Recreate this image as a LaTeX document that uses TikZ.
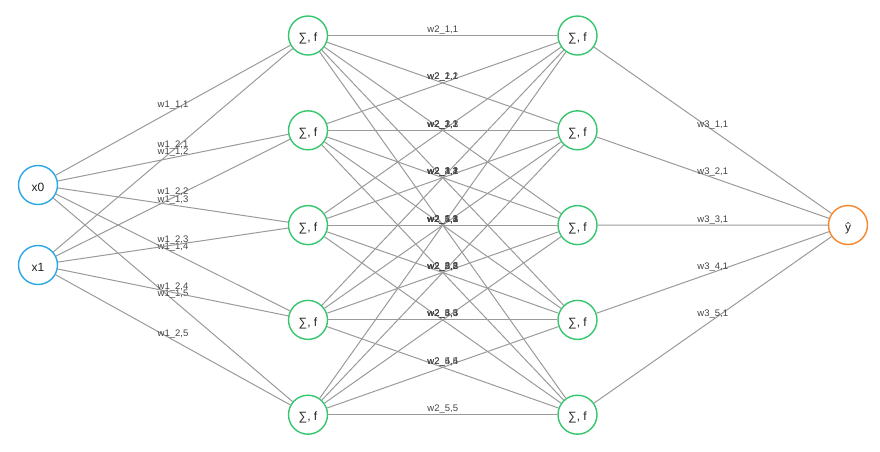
\documentclass[tikz,border=0pt]{standalone}
\usepackage{fontspec}
\setmainfont{Liberation Sans}
\definecolor{inblue}{HTML}{2AA8E4}
\definecolor{hidgreen}{HTML}{36C66E}
\definecolor{outorange}{HTML}{F5862C}
\definecolor{linkgray}{HTML}{9A9A9A}
\definecolor{labelgray}{HTML}{444444}
\definecolor{textdark}{HTML}{222222}
\begin{document}
\begin{tikzpicture}[x=1pt,y=-1pt,
  neuron/.style={circle,minimum size=39pt,inner sep=0pt,line width=1.4pt,fill=white,
    text height=12.5pt,text depth=0pt,
    font=\fontsize{12}{14}\selectfont,text=textdark},
  inneuron/.style={neuron,draw=inblue},
  hidneuron/.style={neuron,draw=hidgreen},
  outneuron/.style={neuron,draw=outorange},
  link/.style={draw=linkgray,line width=1pt},
  wlabel/.style={anchor=base,yshift=3pt,inner sep=0pt,
    font=\fontsize{9.5}{11}\selectfont,text=labelgray}
]
\useasboundingbox (0,0) rectangle (880,451);

% input layer
\node[inneuron] (in1) at (38,185) {x0};
\node[inneuron] (in2) at (38,265) {x1};

% two hidden layers
\foreach \j in {1,...,5} {
  \pgfmathsetmacro\yy{35.5+94.8*(\j-1)}
  \node[hidneuron] (a\j) at (308,\yy) {∑, f};
  \node[hidneuron] (b\j) at (577.5,\yy) {∑, f};
}

% output
\node[outneuron] (out) at (848,225) {ŷ};

% weights: input -> hidden 1
\foreach \i in {1,2}
  \foreach \j in {1,...,5}
    \draw[link] (in\i) -- node[wlabel] {w1\_\i,\j} (a\j);

% weights: hidden 1 -> hidden 2
\foreach \i in {1,...,5}
  \foreach \j in {1,...,5}
    \draw[link] (a\i) -- node[wlabel] {w2\_\i,\j} (b\j);

% weights: hidden 2 -> output
\foreach \i in {1,...,5}
  \draw[link] (b\i) -- node[wlabel] {w3\_\i,1} (out);
\end{tikzpicture}
\end{document}
